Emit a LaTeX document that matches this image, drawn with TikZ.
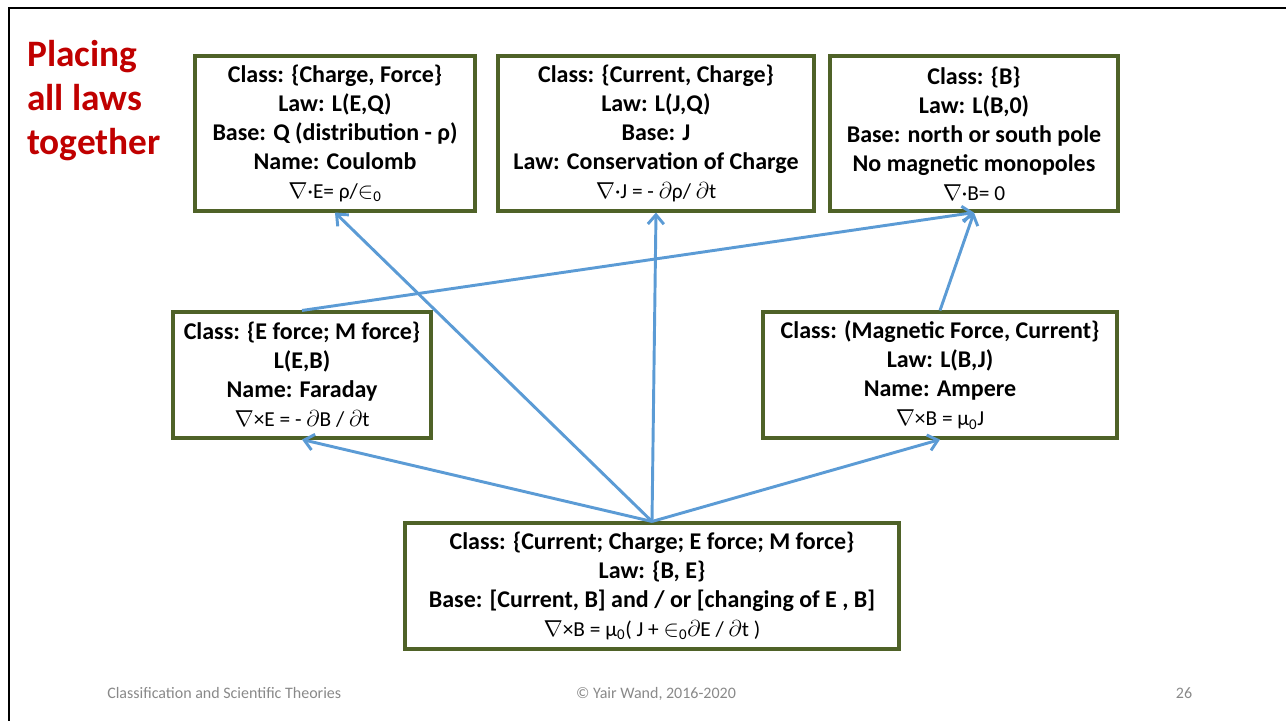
\documentclass[tikz,border=0pt]{standalone}
\usepackage{fontspec}
\setmainfont{Carlito}
\usetikzlibrary{arrows.meta}

\definecolor{lawgreen}{RGB}{79,98,40}
\definecolor{linkblue}{RGB}{91,155,213}
\definecolor{titlered}{RGB}{192,0,0}
\definecolor{footgray}{RGB}{137,137,137}

% formula line under each law
\newcommand{\eqline}{\mdseries\fontsize{16}{21.75}\selectfont}

\tikzset{
	law/.style={draw=lawgreen,line width=2.3pt,fill=white,align=center,inner sep=0pt,font=\fontsize{18}{21.75}\selectfont\bfseries},
	link/.style={color=linkblue,line width=2.2pt},
	footer/.style={text=footgray,inner sep=0pt,font=\fontsize{12}{14}\selectfont}
}

\begin{document}
\begin{tikzpicture}[x=0.75pt,y=-0.75pt,>={Straight Barb[length=7pt,width=12pt]}]
	\useasboundingbox (0,0) rectangle (1286,721);
	% slide frame
	\draw[line width=2.2pt] (1286,8) -- (9,8) -- (9,721);

	\node (title) at (27,40) [anchor=north west,inner sep=0pt,align=left,text=titlered,font=\fontsize{28}{33}\selectfont\bfseries] {Placing\\all laws\\together};

	\node (coulomb) at (335,133.5) [law,minimum width=210pt,minimum height=116.25pt] {Class: \{Charge, Force\}\\Law: L(E,Q)\\Base: Q (distribution - ρ)\\Name: Coulomb\\{\eqline $\nabla$·E= ρ/$\in$\textsubscript{0}}};
	\node (charge) at (656,133.5) [law,minimum width=237pt,minimum height=116.25pt] {Class: \{Current, Charge\}\\Law: L(J,Q)\\Base: J\\Law: Conservation of Charge\\{\eqline $\nabla$·J = - $\partial$ρ/ $\partial$t}};
	\node (monopole) at (974,133.5) [law,minimum width=216pt,minimum height=116.25pt] {Class: \{B\}\\Law: L(B,0)\\Base: north or south pole\\No magnetic monopoles\\{\eqline $\nabla$·B= 0}};

	\node (faraday) at (302,375) [law,minimum width=193.5pt,minimum height=94.5pt] {Class: \{E force; M force\}\\L(E,B)\\Name: Faraday\\{\eqline $\nabla$×E = - $\partial$B / $\partial$t}};
	\node (ampere) at (940,375) [law,minimum width=265.5pt,minimum height=94.5pt] {Class: (Magnetic Force, Current\}\\Law: L(B,J)\\Name: Ampere\\{\eqline $\nabla$×B = μ\textsubscript{0}J}};

	\node (maxwell) at (652,586) [law,minimum width=370.5pt,minimum height=94.5pt] {Class: \{Current; Charge; E force; M force\}\\Law: \{B, E\}\\Base: [Current, B] and / or [changing of E , B]\\{\eqline $\nabla$×B = μ\textsubscript{0}( J + $\in$\textsubscript{0}$\partial$E / $\partial$t )}};

	\path[link,->] (maxwell.north) edge (coulomb.south);
	\path[link,->] (maxwell.north) edge (charge.south);
	\path[link,->] (maxwell.north) edge (faraday.south);
	\path[link,->] (maxwell.north) edge (ampere.south);
	\path[link,->] (faraday.north) edge (monopole.south);
	\path[link,->] (ampere.north) edge (monopole.south);

	\node (course) at (107,698) [footer,anchor=base west] {Classification and Scientific Theories};
	\node (author) at (656,698) [footer,anchor=base] {© Yair Wand, 2016-2020};
	\node (page) at (1184,698) [footer,anchor=base] {26};
\end{tikzpicture}
\end{document}
